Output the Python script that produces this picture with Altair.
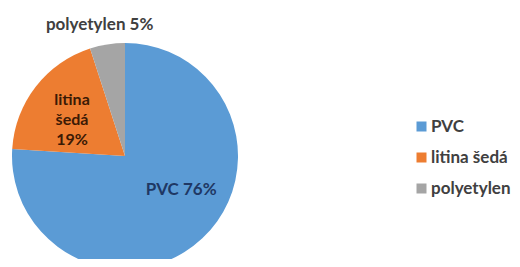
import altair as alt
import pandas as pd

categories = ["PVC", "litina šedá", "polyetylen"]
shares = [76, 19, 5]
labels = ["PVC 76%", "litina\nšedá\n19%", "polyetylen 5%"]
colors = ["#5B9BD5", "#ED7D31", "#A5A5A5"]

df = pd.DataFrame({"cat": categories, "share": shares, "label": labels, "order": [0, 1, 2]})

CX, CY, R = 117, 148, 113
FONT = "Lato"
FS = 17

base = alt.Chart(df).encode(
    theta=alt.Theta("share:Q", stack=True),
    order=alt.Order("order:Q"),
)

arc = base.mark_arc(outerRadius=R, x=CX, y=CY, strokeWidth=0).encode(
    color=alt.Color(
        "cat:N",
        scale=alt.Scale(domain=categories, range=colors),
        sort=categories,
        legend=alt.Legend(
            title=None,
            orient="none",
            legendX=405,
            legendY=110,
            symbolType="square",
            symbolSize=100,
            symbolStrokeWidth=0,
            labelFont=FONT,
            labelFontSize=FS,
            labelFontWeight="bold",
            labelColor="#404040",
            rowPadding=13,
            symbolOffset=0,
            labelOffset=1,
        ),
    )
)


def label_layer(cat, radius, dx, dy, color, fs):
    return base.transform_calculate(
        t=f"datum.cat == '{cat}' ? datum.label : ''"
    ).mark_text(
        x=CX, y=CY, radius=radius, dx=dx, dy=dy, font=FONT, fontSize=fs,
        fontWeight="bold", color=color, lineBreak="\n", lineHeight=20,
        align="center", baseline="middle",
    ).encode(text="t:N")


chart = alt.layer(
    arc,
    label_layer("PVC", 66, 11, -14, "#1F3864", 17),
    label_layer("litina šedá", 62, -4, -18, "#3B1A05", 16),
    label_layer("polyetylen", 130, -5, -3, "#404040", 17),
).properties(
    width=504, height=251, padding=0, autosize=alt.AutoSizeParams(type="none")
).configure_view(stroke=None)

chart.save("out.html", embed_options={"renderer": "svg", "actions": False})
